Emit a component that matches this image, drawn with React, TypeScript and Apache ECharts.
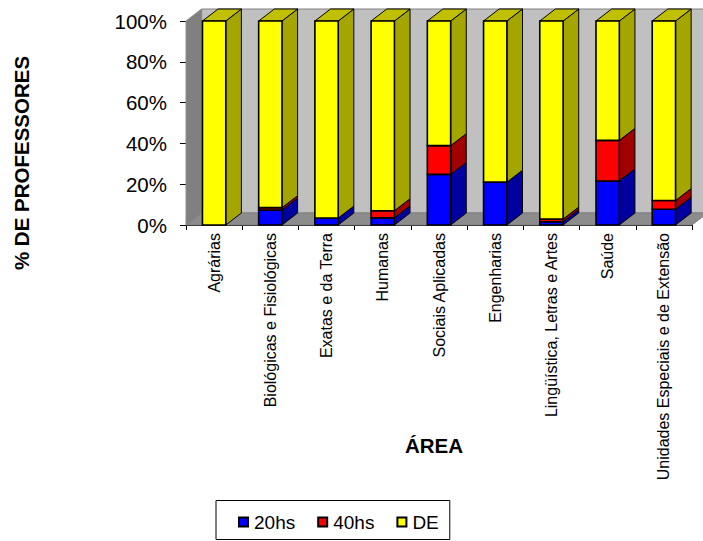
import React, { useEffect, useRef } from "react";
import * as echarts from "echarts";

const categories = [
  "Agrárias",
  "Biológicas e Fisiológicas",
  "Exatas e da Terra",
  "Humanas",
  "Sociais Aplicadas",
  "Engenharias",
  "Lingüística, Letras e Artes",
  "Saúde",
  "Unidades Especiais e de Extensão",
];
const h20 = [0, 7.3, 3.4, 3.5, 24.8, 21, 1.6, 21.6, 7.7];
const h40 = [0, 1.2, 0, 3.5, 14.1, 0, 1.3, 19.9, 4.3];
const de = [100, 91.5, 96.6, 93, 61.1, 79, 97.1, 58.5, 88];
const yTicks = [0, 20, 40, 60, 80, 100];

const DX = 15.6;
const DY = 12;
const FONT = '"Liberation Sans", Arial, sans-serif';

function stacked(own: number[], below: number[][]) {
  return own.map((v, i) => {
    const s = below.reduce((a, b) => a + b[i], 0);
    return [i, s, s + v];
  });
}

function barSeries(name: string, data: number[][], front: string, side: string, top: string) {
  return {
    type: "custom",
    name,
    z: 3,
    clip: false,
    itemStyle: { color: front },
    encode: { x: 0, y: [1, 2] },
    data,
    renderItem: (_p: any, api: any) => {
      const from = api.value(1);
      const to = api.value(2);
      if (to - from <= 0) return { type: "group", children: [] };
      const c = api.value(0);
      const w = api.size([1, 0])[0] * 0.415;
      const a = api.coord([c, from]);
      const b = api.coord([c, to]);
      const x0 = a[0] - w / 2;
      const x1 = a[0] + w / 2;
      const edge = { stroke: "#000", lineWidth: 1 };
      const children: any[] = [
        {
          type: "polygon",
          shape: { points: [[x1, a[1]], [x1 + DX, a[1] - DY], [x1 + DX, b[1] - DY], [x1, b[1]]] },
          style: { fill: side, ...edge },
        },
      ];
      if (name === "DE") {
        children.push({
          type: "polygon",
          shape: { points: [[x0, b[1]], [x0 + DX, b[1] - DY], [x1 + DX, b[1] - DY], [x1, b[1]]] },
          style: { fill: top, ...edge },
        });
      }
      children.push({
        type: "rect",
        shape: { x: x0, y: b[1], width: w, height: a[1] - b[1] },
        style: { fill: front, stroke: "#000", lineWidth: 1.6 },
      });
      return { type: "group", children };
    },
  };
}

const wallSeries = {
  type: "custom",
  name: "parede",
  z: 1,
  clip: false,
  silent: true,
  data: [[0, 0, 100]],
  encode: { x: 0, y: [1, 2] },
  renderItem: (p: any) => {
    const { x, y, width: w, height: h } = p.coordSys;
    return {
      type: "group",
      children: [
        {
          type: "polygon",
          shape: { points: [[x + DX, y - DY], [x + w + DX, y - DY], [x + w + DX, y + h - DY], [x + DX, y + h - DY]] },
          style: { fill: "#C0C0C0", stroke: "#808080", lineWidth: 1 },
        },
        {
          type: "polygon",
          shape: { points: [[x, y], [x + DX, y - DY], [x + DX, y + h - DY], [x, y + h]] },
          style: { fill: "#808080", stroke: "#8c8c8c", lineWidth: 1 },
        },
        {
          type: "polygon",
          shape: { points: [[x, y + h], [x + DX, y + h - DY], [x + w + DX, y + h - DY], [x + w, y + h]] },
          style: { fill: "#8c8c8c", stroke: "#808080", lineWidth: 1 },
        },
      ],
    };
  },
};

export default function App() {
  const ref = useRef<HTMLDivElement>(null);
  useEffect(() => {
    const chart = echarts.init(ref.current!, undefined, { renderer: "svg" });
    chart.setOption({
      animation: false,
      backgroundColor: "#fff",
      textStyle: { fontFamily: FONT },
      grid: { left: 186, top: 21, width: 506, height: 204, containLabel: false },
      xAxis: {
        type: "category",
        data: categories,
        axisLine: { lineStyle: { color: "#000", width: 1 }, onZero: false },
        axisTick: { show: true, length: 5, lineStyle: { color: "#000" }, alignWithLabel: false },
        axisLabel: { rotate: 90, interval: 0, color: "#000", fontSize: 16, fontFamily: FONT, margin: 8 },
        splitLine: { show: false },
      },
      yAxis: {
        type: "value",
        min: yTicks[0],
        max: yTicks[yTicks.length - 1],
        interval: 20,
        axisLine: { show: true, lineStyle: { color: "#000", width: 1 } },
        axisTick: { show: true, length: 6, lineStyle: { color: "#000" } },
        axisLabel: { formatter: "{value}%", color: "#000", fontSize: 20.5, fontFamily: FONT, margin: 19 },
        splitLine: { show: false },
      },
      legend: {
        data: ["20hs", "40hs", "DE"],
        left: 216,
        top: 500.5,
        padding: [12, 11, 8, 22],
        itemWidth: 9,
        itemHeight: 9,
        itemGap: 22,
        icon: "rect",
        selectedMode: false,
        borderColor: "#000",
        borderWidth: 1,
        backgroundColor: "#fff",
        itemStyle: { borderColor: "#000", borderWidth: 2 },
        textStyle: { color: "#000", fontSize: 19, fontFamily: FONT, padding: [0, 0, 0, 1] },
      },
      graphic: [
        {
          type: "text",
          x: 21,
          y: 163,
          rotation: Math.PI / 2,
          style: { text: "% DE PROFESSORES", fill: "#000", font: `bold 20.5px ${FONT}`, align: "center", verticalAlign: "middle" },
        },
        {
          type: "text",
          x: 434,
          y: 445,
          style: { text: "ÁREA", fill: "#000", font: `bold 20.5px ${FONT}`, align: "center", verticalAlign: "middle" },
        },
      ],
      series: [
        wallSeries,
        barSeries("20hs", stacked(h20, []), "#0000FF", "#0000A0", "#0000C0"),
        barSeries("40hs", stacked(h40, [h20]), "#FF0000", "#A00000", "#C00000"),
        barSeries("DE", stacked(de, [h20, h40]), "#FFFF00", "#A5A500", "#C0C000"),
      ],
    });
    return () => chart.dispose();
  }, []);
  return <div ref={ref} style={{ position: "absolute", left: 0, top: 0, width: 703, height: 541 }} />;
}
